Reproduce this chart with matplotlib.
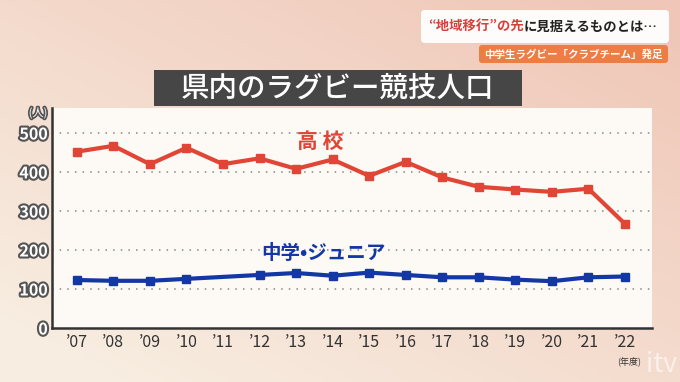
import numpy as np
import matplotlib.pyplot as plt
import matplotlib.patheffects as pe
from matplotlib.patches import FancyBboxPatch, Rectangle

plt.rcParams['font.family'] = ['Noto Sans CJK JP', 'DejaVu Sans']

# データ
years = ["'07", "'08", "'09", "'10", "'11", "'12", "'13", "'14",
         "'15", "'16", "'17", "'18", "'19", "'20", "'21", "'22"]
koukou = [452, 467, 420, 462, 420, 435, 408, 432,
          390, 426, 386, 362, 355, 349, 357, 267]
# 中学・ジュニア: '11 は点なし
junior_years = ["'07", "'08", "'09", "'10", "'12", "'13", "'14",
                "'15", "'16", "'17", "'18", "'19", "'20", "'21", "'22"]
junior = [123, 121, 121, 126, 136, 141, 134,
          142, 136, 130, 130, 124, 120, 130, 132]
yticks = [0, 100, 200, 300, 400, 500]

W, H = 680, 382
fig = plt.figure(figsize=(6.8, 3.82), dpi=100)

# 背景グラデーション
bg = fig.add_axes([0, 0, 1, 1])
gx, gy = np.meshgrid(np.linspace(0, 1, 200), np.linspace(0, 1, 120))
t = np.clip(0.55 * gx + 0.6 * gy - 0.1, 0, 1)
c1 = np.array([0.97, 0.93, 0.88])
c2 = np.array([0.94, 0.78, 0.72])
img = c1[None, None, :] * (1 - t[..., None]) + c2[None, None, :] * t[..., None]
bg.imshow(img, extent=[0, W, 0, H], aspect='auto', origin='upper')
bg.set_xlim(0, W)
bg.set_ylim(H, 0)
bg.axis('off')

# 右上のテロップ
bg.add_patch(FancyBboxPatch((421, 10), 248, 33, boxstyle='round,pad=0,rounding_size=4',
                            fc='white', ec='none', alpha=0.95))
bg.add_patch(FancyBboxPatch((479, 45), 189, 18, boxstyle='round,pad=0,rounding_size=3',
                            fc='#ec7d45', ec='none'))
t1 = bg.text(428, 27, '“地域移行”の先', color='#d6403a', fontsize=9.6,
             fontweight='bold', va='center', ha='left')
fig.canvas.draw()
r = fig.canvas.get_renderer()
bb = t1.get_window_extent(r)
x2 = bg.transData.inverted().transform((bb.x1, bb.y0))[0]
bg.text(x2, 27, 'に見据えるものとは…', color='#222222', fontsize=9.6,
        fontweight='bold', va='center', ha='left')
bg.text(573.5, 54.5, '中学生ラグビー「クラブチーム」発足', color='white', fontsize=7.6,
        fontweight='bold', va='center', ha='center')

# タイトル
bg.add_patch(Rectangle((154, 70), 368, 36, fc='#464646', ec='none'))
bg.text(338, 88.5, '県内のラグビー競技人口', color='white', fontsize=20.5,
        va='center', ha='center', fontweight='medium')

# グラフ本体
ax = fig.add_axes([52 / W, (H - 328) / H, 600 / W, 220 / H])
ax.set_facecolor('#fdf9f4')
xpos = np.arange(len(years))
jpos = [years.index(y) for y in junior_years]
ax.plot(xpos, koukou, color='#e04536', lw=3, marker='s', ms=6, zorder=3)
ax.plot(jpos, junior, color='#1437a6', lw=3, marker='s', ms=6, zorder=3)

ax.set_xlim(-0.68, 15.74)
ax.set_ylim(0, 564)
ax.set_yticks(yticks)
for v in yticks[1:]:
    ax.axhline(v, color='#888888', lw=1.1, ls=(0, (1, 4)), zorder=1)
ax.set_xticks(xpos)
ax.set_xticklabels([y.replace("'", '’') for y in years], fontsize=11.5, color='#333333')
ax.set_yticklabels([str(v) for v in yticks], fontsize=11.5, color='white', fontweight='bold')
for lab in ax.get_yticklabels():
    lab.set_path_effects([pe.withStroke(linewidth=3, foreground='#555555')])
ax.tick_params(length=0, pad=3)
ax.tick_params(axis='x', pad=4)
for s in ['top', 'right']:
    ax.spines[s].set_visible(False)
for s in ['left', 'bottom']:
    ax.spines[s].set_color('#333333')
    ax.spines[s].set_linewidth(1.8)

ax.text(6.65, 478, '高 校', color='#e04536', fontsize=15, fontweight='bold',
        ha='center', va='center')
ax.text(6.75, 190, '中学•ジュニア', color='#1437a6', fontsize=14, fontweight='bold',
        ha='center', va='center')

# 単位
bg.text(38, 113, '(人)', color='white', fontsize=8, ha='center', va='center',
        path_effects=[pe.withStroke(linewidth=2.5, foreground='#555555')])
bg.text(629, 361, '(年度)', color='#333333', fontsize=6.5, ha='center', va='center')
bg.text(662, 364, 'itv', color='white', alpha=0.6, fontsize=19, ha='center', va='center')

fig.savefig('out.png', dpi=100)
